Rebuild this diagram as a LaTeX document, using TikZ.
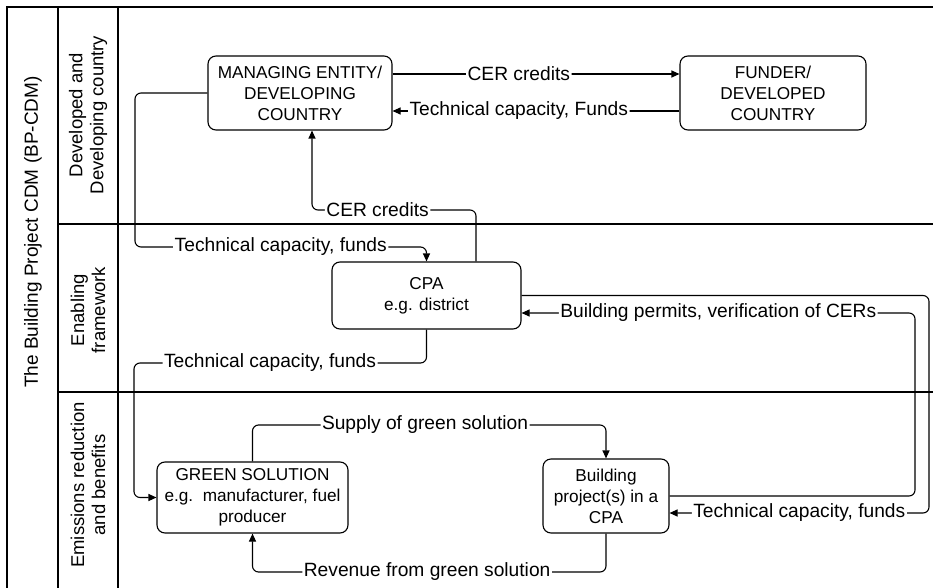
\documentclass[tikz,border=0pt]{standalone}
\usepackage{fontspec}
\setmainfont{Liberation Sans}
\usetikzlibrary{arrows.meta}
\begin{document}
\begin{tikzpicture}[x=1pt,y=-1pt,
  box/.style={draw,line width=1.1pt,rounded corners=8pt,align=center,inner sep=0pt,font=\fontsize{17.2}{21}\selectfont},
  conn/.style={line width=1.1pt,rounded corners=6pt},
  arr/.style={conn,-{Triangle[length=8pt,width=7pt]}},
  lbl/.style={fill=white,inner sep=1.5pt,font=\fontsize{19.2}{22}\selectfont},
  lane/.style={line width=1.3pt},
  lanelbl/.style={rotate=90,align=center,font=\fontsize{18.5}{21}\selectfont}]
\useasboundingbox (0,0) rectangle (933,588);
% frame
\draw[lane] (933,7) -- (7,7) -- (7,588);
\draw[lane] (58,7) -- (58,588);
\draw[lane] (118,7) -- (118,588);
\draw[lane] (58,224) -- (933,224);
\draw[lane] (58,392) -- (933,392);
\node[lanelbl,font=\fontsize{19}{21}\selectfont] (title) at (33,232) {The Building Project CDM (BP-CDM)};
\node[lanelbl] (lane1) at (88,115) {Developed and\\Developing country};
\node[lanelbl] (lane2) at (88,310) {Enabling\\framework};
\node[lanelbl] (lane3) at (88,485) {Emissions reduction\\and benefits};
% boxes
\node[box,minimum width=184pt,minimum height=74pt] (mgr) at (300,93) {MANAGING ENTITY/\\DEVELOPING\\COUNTRY};
\node[box,minimum width=186pt,minimum height=74pt] (fund) at (773,93) {FUNDER/\\DEVELOPED\\COUNTRY};
\node[box,minimum width=189pt,minimum height=67pt] (cpa) at (426.5,295.5) {CPA\\e.g. district};
\node[box,minimum width=191pt,minimum height=71pt] (green) at (252.5,497.5) {GREEN SOLUTION\\e.g.\ \ manufacturer, fuel\\producer};
\node[box,minimum width=126pt,minimum height=74pt] (bld) at (606,496) {Building\\project(s) in a\\CPA};
% connectors
\draw[arr] ([yshift=19pt]mgr.east) -- node[lbl,pos=0.44]{CER credits} ([yshift=19pt]fund.west);
\draw[arr] ([yshift=-18pt]fund.west) -- node[lbl,pos=0.56]{Technical capacity, Funds} ([yshift=-18pt]mgr.east);
\draw[arr] (mgr.west) -- (135,93) -- (135,247) -- node[lbl,pos=0.5]{Technical capacity, funds} (426.5,247) -- (cpa.north);
\draw[arr] ([xshift=49.5pt]cpa.north) -- (476,210) -- node[lbl,pos=0.6]{CER credits} (312,210) -- ([xshift=12pt]mgr.south);
\draw[arr] (cpa.south) -- (426.5,363) -- node[lbl,pos=0.535]{Technical capacity, funds} (134,363) -- (134,497.5) -- (green.west);
\draw[arr] (green.north) -- (252.5,425) -- node[lbl,pos=0.488]{Supply of green solution} (606,425) -- (bld.north);
\draw[arr] (bld.south) -- (606,572) -- node[lbl,pos=0.506]{Revenue from green solution} (252.5,572) -- (green.south);
\draw[arr] (cpa.east) -- (929,295.5) -- (929,513) -- node[lbl,pos=0.5]{Technical capacity, funds} ([yshift=-17pt]bld.east);
\draw[arr] (bld.east) -- (915,496) -- (915,313) -- node[lbl,pos=0.5]{Building permits, verification of CERs} ([yshift=-17.5pt]cpa.east);
\end{tikzpicture}
\end{document}
